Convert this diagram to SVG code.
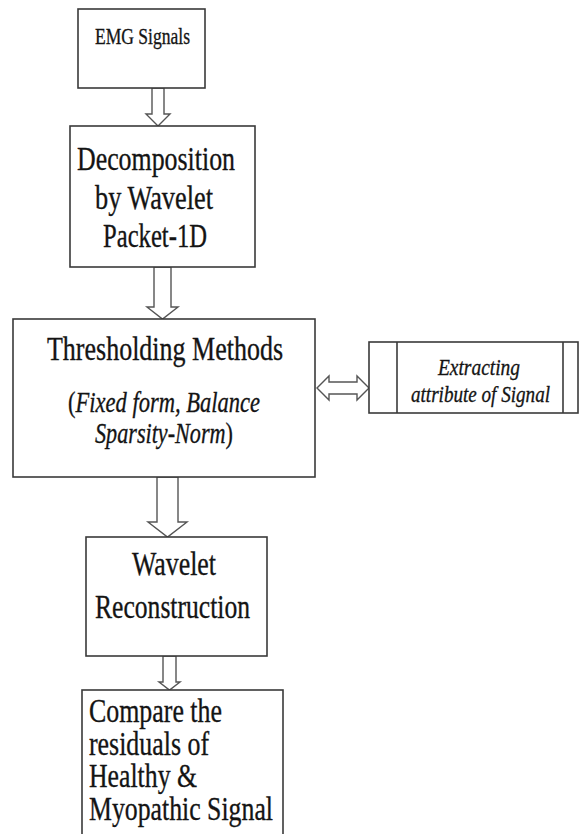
<svg xmlns="http://www.w3.org/2000/svg" width="580" height="834" viewBox="0 0 580 834">
<style>
.box{fill:#fff;stroke:#3a3a3a;stroke-width:1.6}
.arr{fill:#fff;stroke:#555;stroke-width:1.4;stroke-linejoin:miter}
text{font-family:'Liberation Serif','Times New Roman',serif;fill:#141414;stroke:#141414;stroke-width:0.25}
.i{font-style:italic}
</style>
<rect width="580" height="834" fill="#fff"/>
<g id="connectors">
<polygon class="arr" points="152,88 164,88 164,114 170,114 158,126 146,114 152,114"/>
<polygon class="arr" points="154,267 171,267 171,307 178,307 162.5,319 147,307 154,307"/>
<polygon class="arr" points="157,477 178,477 178,522 187,522 167.5,537 148,522 157,522"/>
<polygon class="arr" points="163,656 176,656 176,682 180,682 169.5,690 159,682 163,682"/>
<polygon class="arr" points="317,388 329,376 329,382 357,382 357,376 369,388 357,400 357,394 329,394 329,400"/>
</g>
<g id="emg">
<rect class="box" x="78" y="9" width="127" height="79"/>
<text x="95" y="0" font-size="17.5" textLength="95" lengthAdjust="spacingAndGlyphs" transform="matrix(1,0,0,1.33,0,44)">EMG Signals</text>
</g>
<g id="decomposition">
<rect class="box" x="70" y="126" width="185" height="141"/>
<text x="77" y="0" font-size="26" textLength="158" lengthAdjust="spacingAndGlyphs" transform="matrix(1,0,0,1.33,0,170)">Decomposition</text>
<text x="95" y="0" font-size="26" textLength="118" lengthAdjust="spacingAndGlyphs" transform="matrix(1,0,0,1.33,0,209)">by Wavelet</text>
<text x="103" y="0" font-size="26" textLength="104" lengthAdjust="spacingAndGlyphs" transform="matrix(1,0,0,1.33,0,247)">Packet-1D</text>
</g>
<g id="thresholding">
<rect class="box" x="13" y="319" width="302" height="158"/>
<text x="47" y="0" font-size="24.6" textLength="236" lengthAdjust="spacingAndGlyphs" transform="matrix(1,0,0,1.33,0,360)">Thresholding Methods</text>
<text x="68" y="0" font-size="22.5" textLength="192" lengthAdjust="spacingAndGlyphs" transform="matrix(1,0,0,1.33,0,412)">(<tspan class="i">Fixed form, Balance</tspan></text>
<text x="95" y="0" font-size="22.5" textLength="138" lengthAdjust="spacingAndGlyphs" transform="matrix(1,0,0,1.33,0,443)"><tspan class="i">Sparsity-Norm</tspan>)</text>
</g>
<g id="extracting">
<rect class="box" x="369" y="342" width="209" height="71"/>
<line class="box" x1="397" y1="342" x2="397" y2="413"/>
<line class="box" x1="563" y1="342" x2="563" y2="413"/>
<text class="i" x="438" y="0" font-size="18" textLength="82" lengthAdjust="spacingAndGlyphs" transform="matrix(1,0,0,1.3,0,375)">Extracting</text>
<text class="i" x="411" y="0" font-size="18" textLength="139" lengthAdjust="spacingAndGlyphs" transform="matrix(1,0,0,1.3,0,402)">attribute of Signal</text>
</g>
<g id="reconstruction">
<rect class="box" x="86" y="537" width="181" height="119"/>
<text x="132" y="0" font-size="25.2" textLength="84" lengthAdjust="spacingAndGlyphs" transform="matrix(1,0,0,1.33,0,575)">Wavelet</text>
<text x="95" y="0" font-size="25.2" textLength="155" lengthAdjust="spacingAndGlyphs" transform="matrix(1,0,0,1.33,0,618)">Reconstruction</text>
</g>
<g id="compare">
<rect class="box" x="82" y="690" width="201" height="160"/>
<text x="89" y="0" font-size="25.8" textLength="133" lengthAdjust="spacingAndGlyphs" transform="matrix(1,0,0,1.33,0,722)">Compare the</text>
<text x="89" y="0" font-size="25.8" textLength="120" lengthAdjust="spacingAndGlyphs" transform="matrix(1,0,0,1.33,0,755)">residuals of</text>
<text x="89" y="0" font-size="25.8" textLength="108" lengthAdjust="spacingAndGlyphs" transform="matrix(1,0,0,1.33,0,787)">Healthy &amp;</text>
<text x="89" y="0" font-size="25.8" textLength="184" lengthAdjust="spacingAndGlyphs" transform="matrix(1,0,0,1.33,0,820)">Myopathic Signal</text>
</g>
</svg>
